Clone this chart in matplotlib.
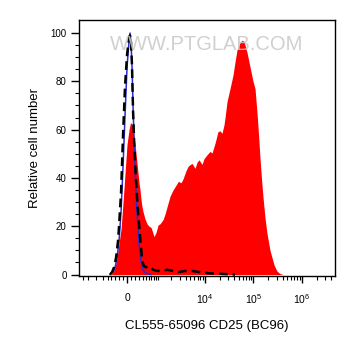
import numpy as np
import matplotlib
matplotlib.use("Agg")
import matplotlib.pyplot as plt

plt.rcParams['font.family'] = ['Liberation Sans', 'DejaVu Sans']
plt.rcParams['mathtext.default'] = 'regular'

# CD25 stained sample (red fill)
red_x = [-412, -352, -296, -243, -192, -142, -94, -47, 0, 47, 82, 118, 142, 167,
         192, 217, 243, 269, 296, 324, 352, 381, 412, 474, 541, 614, 692, 777, 822,
         917, 1020, 1128, 1317, 1453, 1609, 1866, 2160, 2503, 2800, 3183, 3500,
         4043, 4452, 4895, 5384, 6217, 6838, 7518, 8667, 9535, 11000, 12685, 13950,
         16100, 18540, 20400, 22430, 24650, 25880, 28450, 32800, 37800, 41560,
         45700, 50300, 52700, 57930, 63700, 66850, 73500, 80800, 91000, 97800,
         107500, 118200, 127000, 136300, 147600, 157200, 172800, 190000, 203000,
         219200, 241100, 265100, 305600, 352300, 406300]
red_y = [0, 1, 3, 7, 13, 19, 30, 42, 54, 60, 63, 62, 60, 57,
         54, 50, 46, 42, 38, 35, 31, 28, 26, 23, 21, 20, 19.5, 17, 15.7,
         17.5, 20.5, 21, 22.7, 25, 28, 32.4, 35, 37, 38.6, 38, 39.6,
         43, 44.8, 45.5, 46, 44, 46.5, 47.5, 45.6, 48, 49.6, 51, 50.3,
         54.4, 59.2, 59.5, 58.5, 62, 65, 71.6, 77, 82.6, 88,
         93, 95, 96, 97, 96.5, 95, 92, 88, 83, 80,
         77, 67, 58, 48, 38.6, 32, 23.5, 17, 13.8,
         10, 7, 4, 1.4, 0.4, 0]

# isotype control (blue line)
blue_x = [-442, -412, -352, -296, -243, -192, -142, -94, -47, 0, 47, 70, 94, 118,
          142, 167, 192, 217, 243, 269, 296, 324, 352, 381, 412, 474, 577, 692]
blue_y = [0, 0.5, 1, 3, 7, 14, 26, 45, 66, 86, 97, 100, 96, 86,
          70, 56, 44, 34, 26, 19, 13, 8.5, 5.5, 3.5, 2, 0.8, 0.2, 0]

# unstained control (black dashed)
black_x = [-442, -381, -324, -269, -217, -192, -142, -94, -47, 0, 47, 70, 94, 118,
           142, 167, 192, 217, 243, 269, 296, 324, 352, 381, 412, 442, 507, 577,
           652, 777, 967, 1254, 1609, 2160, 2753, 3855, 5384, 7883, 12685, 20400,
           41560]
black_y = [0, 1, 3, 7, 14, 20, 34, 58, 78, 91, 98, 99, 96, 86,
           68, 56, 47, 39, 32, 26, 21, 16, 11, 7, 4.5, 3.5, 3, 3.5,
           3, 2, 1.5, 1.5, 2, 1.5, 1, 1.5, 1.5, 1, 0.5, 0.3,
           0]

major_ticks = [0, 1e4, 1e5, 1e6]
major_labels = ['0', '$10^{4}$', '$10^{5}$', '$10^{6}$']

C = 493.0


def fwd(x):
    return np.arcsinh(np.asarray(x) / C) / np.log(10)


def inv(y):
    return np.sinh(np.asarray(y) * np.log(10)) * C


fig = plt.figure(figsize=(3.56, 3.53), dpi=100)
ax = fig.add_axes([79 / 356, 1 - 276 / 353, 256 / 356, 256 / 353])
ax.set_xscale('function', functions=(fwd, inv))

ax.fill_between(red_x, red_y, 0, color='#ff0000', lw=0, zorder=1)
ax.plot(blue_x, blue_y, color='#2a2ad6', lw=1.1, zorder=2)
ax.plot(black_x, black_y, color='black', lw=1.8, ls=(0, (3.5, 2)), zorder=3)

ax.set_xlim(-2390, 4.8e6)
ax.set_ylim(-0.6, 105.4)

ax.set_xticks(major_ticks)
ax.set_xticklabels(major_labels)
minor = [-2000, -1500, -1000, -700]
minor += list(range(-500, 0, 100)) + list(range(100, 1000, 100))
minor += [k * 1000 for k in range(1, 10)]
minor += [k * 10000 for k in range(2, 10)]
minor += [k * 100000 for k in range(2, 10)]
minor += [k * 1000000 for k in range(2, 5)]
ax.set_xticks(minor, minor=True)

ax.set_yticks([0, 20, 40, 60, 80, 100])
ax.set_yticks(np.arange(0, 105, 5), minor=True)

ax.tick_params(axis='x', which='major', length=5, width=1, labelsize=7.5, pad=7)
ax.tick_params(axis='x', which='minor', length=3, width=0.8)
ax.tick_params(axis='y', which='major', length=6, width=1, labelsize=7, pad=3)
ax.tick_params(axis='y', which='minor', length=3, width=0.8)

for s in ax.spines.values():
    s.set_linewidth(1)

ax.set_ylabel('Relative cell number', fontsize=9.5, labelpad=7)
ax.set_xlabel('CL555-65096 CD25 (BC96)', fontsize=9.5, labelpad=10)

ax.text(0.5, 0.905, 'WWW.PTGLAB.COM', transform=ax.transAxes, ha='center',
        va='center', fontsize=14.5, color='#c8c8c8', alpha=0.85, zorder=5)

fig.savefig('out.png', dpi=100)
